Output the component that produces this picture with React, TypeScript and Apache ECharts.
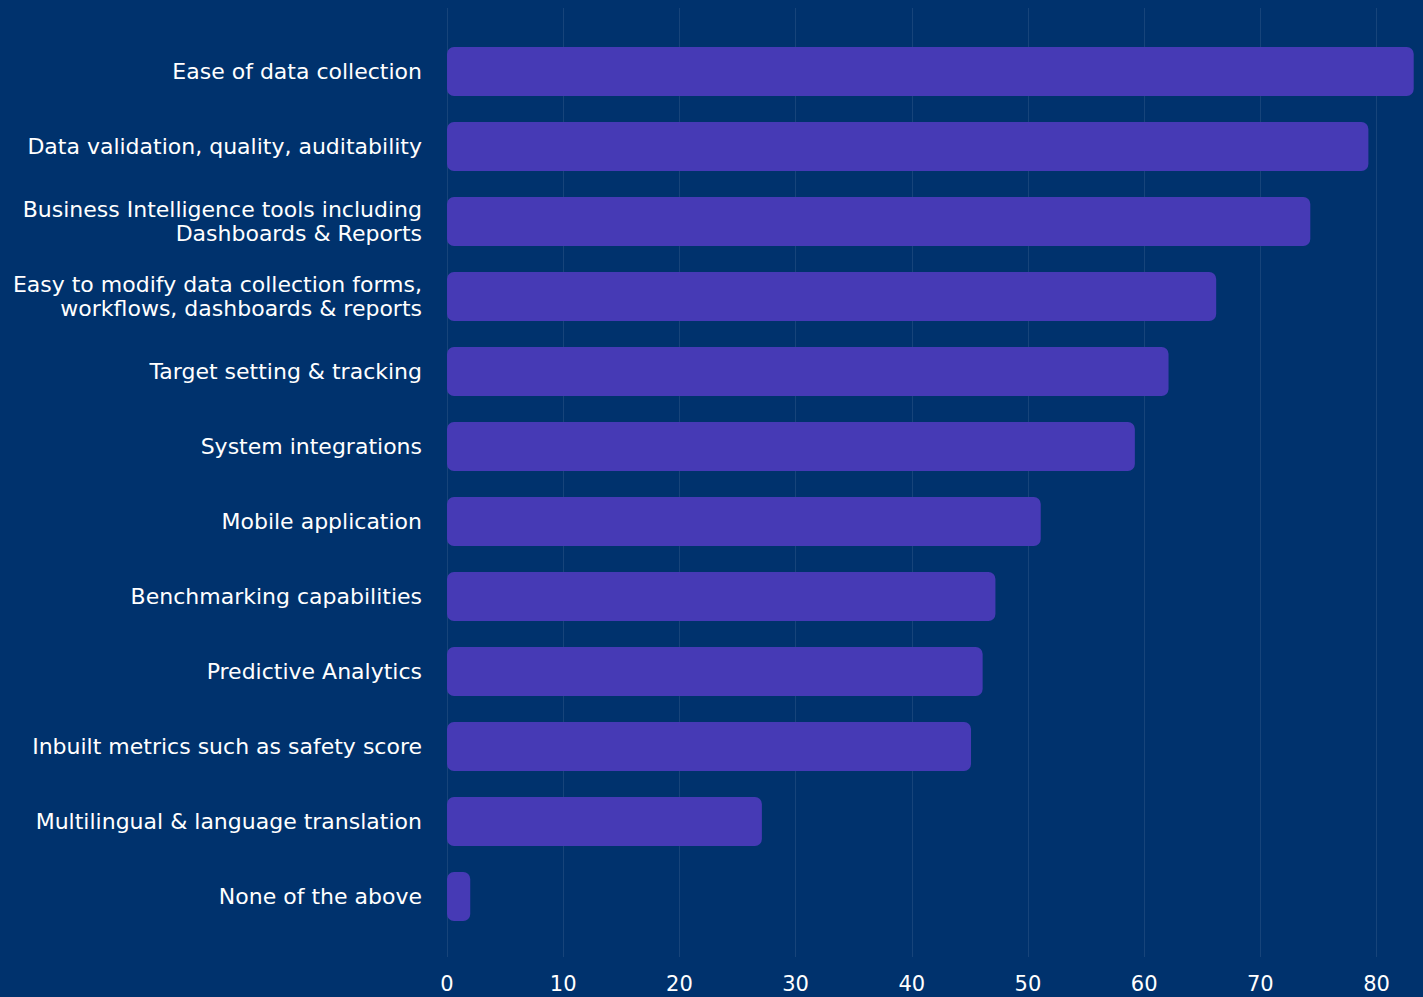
import React, { useEffect, useRef } from "react";
import * as echarts from "echarts";

const categories = [
  "Ease of data collection",
  "Data validation, quality, auditability",
  "Business Intelligence tools including\nDashboards & Reports",
  "Easy to modify data collection forms,\nworkflows, dashboards & reports",
  "Target setting & tracking",
  "System integrations",
  "Mobile application",
  "Benchmarking capabilities",
  "Predictive Analytics",
  "Inbuilt metrics such as safety score",
  "Multilingual & language translation",
  "None of the above",
];

const values = [83.2, 79.3, 74.3, 66.2, 62.1, 59.2, 51.1, 47.2, 46.1, 45.1, 27.1, 2.0];

const xMin = 0;
const xMax = 84;
const xInterval = 10;

const BG = "#00326D";
const BAR = "#463AB5";
const FONT = "'DejaVu Sans', sans-serif";

export default function App() {
  const ref = useRef<HTMLDivElement>(null);
  useEffect(() => {
    if (!ref.current) return;
    const chart = echarts.init(ref.current, undefined, { renderer: "svg" });
    chart.setOption({
      animation: false,
      backgroundColor: BG,
      grid: [
        { left: 447, width: 976, top: 34, height: 900, containLabel: false },
        { left: 447, width: 976, top: 8, height: 949, containLabel: false },
      ],
      xAxis: [
        {
          type: "value",
          gridIndex: 0,
          min: xMin,
          max: xMax,
          interval: xInterval,
          show: false,
        },
        {
          type: "value",
          gridIndex: 1,
          min: xMin,
          max: xMax,
          interval: xInterval,
          axisLine: { show: false },
          axisTick: { show: false },
          splitLine: { show: true, lineStyle: { color: "rgba(255,255,255,0.09)", width: 1 } },
          axisLabel: {
            color: "#ffffff",
            fontFamily: FONT,
            fontSize: 21,
            margin: 16,
            showMaxLabel: false,
          },
        },
      ],
      yAxis: [
        {
          type: "category",
          gridIndex: 0,
          data: categories,
          inverse: true,
          axisLine: { show: false },
          axisTick: { show: false },
          splitLine: { show: false },
          axisLabel: {
            color: "#ffffff",
            fontFamily: FONT,
            fontSize: 22,
            lineHeight: 24,
            margin: 25,
            align: "right",
          },
        },
        {
          type: "value",
          gridIndex: 1,
          show: false,
        },
      ],
      series: [
        {
          type: "bar",
          xAxisIndex: 0,
          yAxisIndex: 0,
          data: values,
          barWidth: 49,
          itemStyle: { color: BAR, borderRadius: 7 },
        },
      ],
    });
    return () => chart.dispose();
  }, []);
  return (
    <div
      ref={ref}
      style={{ position: "absolute", left: 0, top: 0, width: 1423, height: 997 }}
    />
  );
}
